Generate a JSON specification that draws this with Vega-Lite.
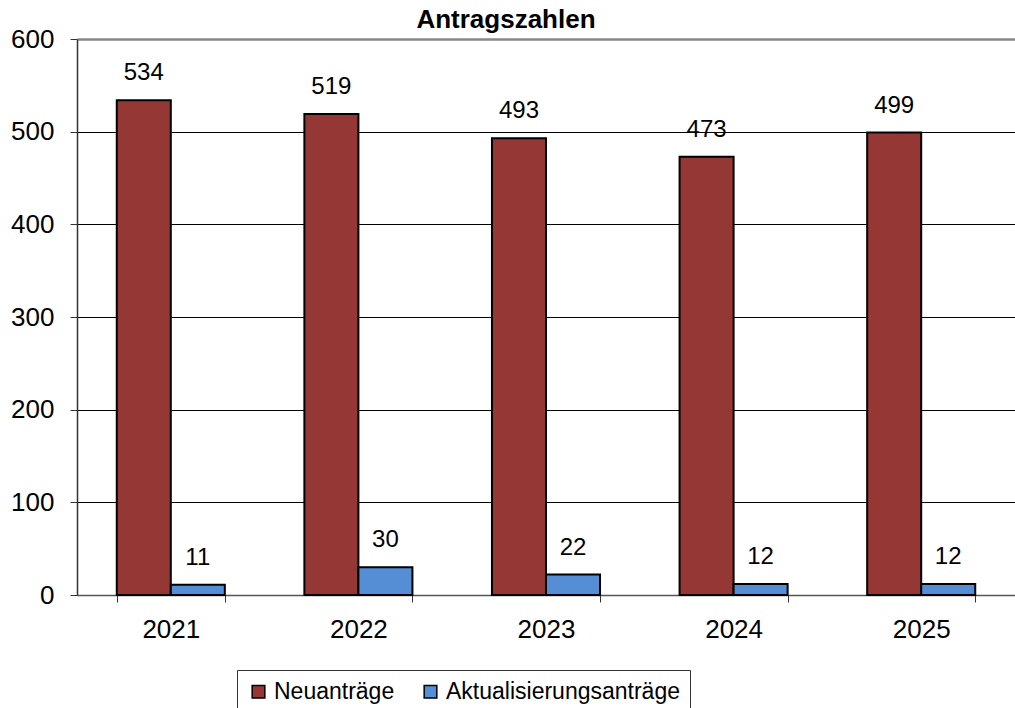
{
  "$schema": "https://vega.github.io/schema/vega-lite/v6.json",
  "width": 938,
  "height": 556,
  "autosize": "none",
  "padding": {"left": 77, "top": 39, "right": 0, "bottom": 113},
  "background": "white",
  "config": {
    "font": "Liberation Sans",
    "view": {"stroke": null}
  },
  "title": {
    "text": "Antragszahlen",
    "fontSize": 26,
    "fontWeight": "bold",
    "font": "Liberation Sans",
    "color": "black",
    "anchor": "middle",
    "dx": -40,
    "offset": -7
  },
  "data": {
    "values": [
      {"year": "2021", "series": "Neuanträge", "value": 534},
      {"year": "2021", "series": "Aktualisierungsanträge", "value": 11},
      {"year": "2022", "series": "Neuanträge", "value": 519},
      {"year": "2022", "series": "Aktualisierungsanträge", "value": 30},
      {"year": "2023", "series": "Neuanträge", "value": 493},
      {"year": "2023", "series": "Aktualisierungsanträge", "value": 22},
      {"year": "2024", "series": "Neuanträge", "value": 473},
      {"year": "2024", "series": "Aktualisierungsanträge", "value": 12},
      {"year": "2025", "series": "Neuanträge", "value": 499},
      {"year": "2025", "series": "Aktualisierungsanträge", "value": 12}
    ]
  },
  "encoding": {
    "x": {
      "field": "year",
      "type": "nominal",
      "scale": {"paddingInner": 0.424, "paddingOuter": 0.212},
      "axis": {
        "title": null,
        "labelAngle": 0,
        "labelFontSize": 26,
        "labelColor": "black",
        "domainColor": "#555",
        "domainWidth": 1.5,
        "tickColor": "#333",
        "tickSize": 7,
        "tickBand": "extent",
        "labelPadding": 14,
        "grid": false
      }
    },
    "xOffset": {
      "field": "series",
      "type": "nominal",
      "sort": ["Neuanträge", "Aktualisierungsanträge"],
      "scale": {"paddingInner": 0, "paddingOuter": 0}
    },
    "y": {
      "field": "value",
      "type": "quantitative",
      "scale": {"domain": [0, 600], "nice": false},
      "axis": {
        "title": null,
        "values": [0, 100, 200, 300, 400, 500, 600],
        "labelFontSize": 26,
        "labelColor": "black",
        "labelPadding": 16,
        "domainColor": "#333",
        "domainWidth": 1.5,
        "tickColor": "#333",
        "tickSize": 7,
        "grid": true,
        "gridColor": {"condition": {"test": "datum.value === 600", "value": "#888888"}, "value": "#000000"},
        "gridWidth": {"condition": {"test": "datum.value === 600", "value": 2.5}, "value": 1}
      }
    }
  },
  "layer": [
    {
      "mark": {"type": "bar", "stroke": "black", "strokeWidth": 2},
      "encoding": {
        "color": {
          "field": "series",
          "type": "nominal",
          "sort": ["Neuanträge", "Aktualisierungsanträge"],
          "scale": {"domain": ["Neuanträge", "Aktualisierungsanträge"], "range": ["#953735", "#558ED5"]},
          "legend": {
            "title": null,
            "orient": "none",
            "direction": "horizontal",
            "legendX": 160,
            "legendY": 631,
            "labelFontSize": 23,
            "labelColor": "black",
            "labelLimit": 400,
            "symbolType": "square",
            "symbolSize": 160,
            "symbolStrokeColor": "black",
            "symbolStrokeWidth": 1.5,
            "labelOffset": 4,
            "columnPadding": 24,
            "padding": 10,
            "strokeColor": "#333",
            "fillColor": "white"
          }
        }
      }
    },
    {
      "mark": {"type": "text", "baseline": "bottom", "dy": -15, "fontSize": 24, "color": "black"},
      "encoding": {"text": {"field": "value", "type": "quantitative"}}
    }
  ]
}
